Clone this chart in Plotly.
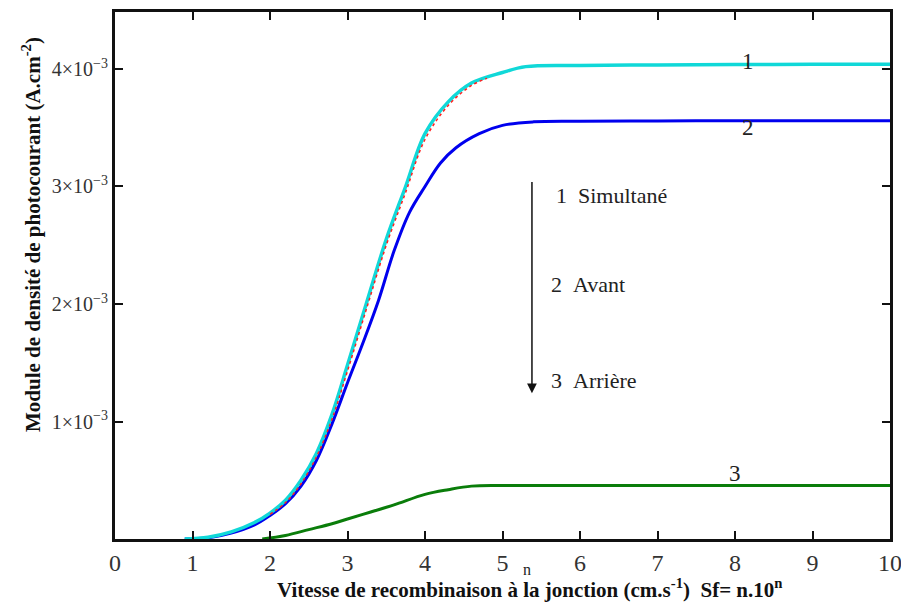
import plotly.graph_objects as go

# Photocurrent density modulus vs junction recombination velocity exponent n (Sf = n.10^n)
x_simul = [0.9, 1.2, 1.5, 1.8, 2.0, 2.2, 2.4, 2.6, 2.8, 3.0, 3.25, 3.5, 3.75, 4.0, 4.3, 4.6, 5.0, 5.3, 6.0, 7.0, 8.0, 9.0, 10.0]
y_simul = [0.0, 0.015, 0.06, 0.14, 0.22, 0.33, 0.50, 0.73, 1.06, 1.48, 2.02, 2.55, 3.00, 3.45, 3.72, 3.88, 3.97, 4.02, 4.03, 4.035, 4.038, 4.04, 4.04]

x_ref = [2.0, 2.2, 2.4, 2.6, 2.8, 3.0, 3.25, 3.5, 3.75, 4.0, 4.3, 4.6, 4.8]
y_ref = [0.21, 0.31, 0.47, 0.70, 1.02, 1.43, 1.97, 2.50, 2.95, 3.40, 3.69, 3.86, 3.92]

x_avant = [0.9, 1.2, 1.5, 1.8, 2.0, 2.2, 2.4, 2.6, 2.8, 3.0, 3.2, 3.4, 3.6, 3.8, 4.0, 4.2, 4.4, 4.7, 5.0, 5.4, 6.0, 7.0, 8.0, 9.0, 10.0]
y_avant = [0.0, 0.01, 0.05, 0.12, 0.20, 0.30, 0.45, 0.67, 0.98, 1.33, 1.67, 2.03, 2.45, 2.78, 3.00, 3.20, 3.33, 3.45, 3.52, 3.55, 3.555, 3.558, 3.56, 3.56, 3.56]

x_arriere = [1.9, 2.2, 2.5, 2.8, 3.0, 3.3, 3.6, 4.0, 4.3, 4.6, 5.0, 6.0, 7.0, 8.0, 9.0, 10.0]
y_arriere = [0.0, 0.03, 0.08, 0.13, 0.17, 0.23, 0.29, 0.38, 0.42, 0.45, 0.455, 0.455, 0.455, 0.455, 0.455, 0.455]

scale = 1e-3
x_ticks = list(range(0, 11))
y_tickvals = [1, 2, 3, 4]
y_ticktext = [f"{v}×10<sup>−3</sup>" for v in y_tickvals]

serif = "Times New Roman, Liberation Serif, DejaVu Serif, serif"

fig = go.Figure()
fig.add_trace(go.Scatter(x=x_arriere, y=[v * scale for v in y_arriere], mode="lines",
                         line=dict(color="#0a7d0a", width=3, shape="spline")))
fig.add_trace(go.Scatter(x=x_avant, y=[v * scale for v in y_avant], mode="lines",
                         line=dict(color="#0000ee", width=3, shape="spline")))
fig.add_trace(go.Scatter(x=x_simul, y=[v * scale for v in y_simul], mode="lines",
                         line=dict(color="#10d8d8", width=3.5, shape="spline")))
fig.add_trace(go.Scatter(x=x_ref, y=[v * scale for v in y_ref], mode="lines",
                         line=dict(color="#ff2020", width=1.5, dash="dot", shape="spline")))

# curve numbers
annotations = [
    dict(x=8.17, y=4.06e-3, text="1"),
    dict(x=8.17, y=3.50e-3, text="2"),
    dict(x=8.0, y=0.56e-3, text="3"),
]
for a in annotations:
    a.update(xref="x", yref="y", showarrow=False, font=dict(family=serif, size=23, color="#222"))

# legend text beside the arrow
legend_items = [("1&nbsp;&nbsp;Simultané", 2.92e-3, 5.66), ("2&nbsp;&nbsp;Avant", 2.17e-3, 5.6), ("3&nbsp;&nbsp;Arrière", 1.345e-3, 5.6)]
for txt, yv, xv in legend_items:
    annotations.append(dict(x=xv, y=yv, xref="x", yref="y", text=txt, showarrow=False, xanchor="left",
                            font=dict(family=serif, size=22, color="#222")))

# downward arrow
annotations.append(dict(x=5.38, y=1.24e-3, ax=5.38, ay=3.05e-3, xref="x", yref="y", axref="x", ayref="y",
                        text="", showarrow=True, arrowhead=2, arrowsize=1.3, arrowwidth=1.5, arrowcolor="#111"))

# axis titles
annotations += [
    dict(xref="paper", yref="paper", x=-0.127, y=0.577, textangle=-90, showarrow=False,
         text="<b>Module de densité de photocourant (A.cm<sup>-2</sup>)</b>",
         font=dict(family=serif, size=21, color="#111")),
    dict(xref="paper", yref="paper", x=0.535, y=-0.124, yanchor="bottom", showarrow=False,
         text="<b>Vitesse de recombinaison à la jonction (cm.s<sup>-1</sup>)  Sf= n.10<sup>n</sup></b>",
         font=dict(family=serif, size=21, color="#111")),
    dict(xref="paper", yref="paper", x=0.532, y=-0.038, yanchor="top", showarrow=False,
         text="n", font=dict(family=serif, size=16, color="#222")),
]

fig.update_layout(
    width=901, height=606,
    margin=dict(l=115, r=11, t=12, b=67),
    plot_bgcolor="white", paper_bgcolor="white",
    showlegend=False,
    xaxis=dict(range=[0, 10], tickvals=x_ticks, ticks="inside", ticklen=8, tickwidth=1.5, tickcolor="#111",
               showline=True, linewidth=3, linecolor="#111", mirror="ticks", showgrid=False, zeroline=False,
               automargin=False, ticklabeloverflow="allow",
               tickfont=dict(family=serif, size=24, color="#333")),
    yaxis=dict(range=[0, 4.485e-3], tickvals=[v * scale for v in y_tickvals], ticktext=y_ticktext,
               ticks="inside", ticklen=8, tickwidth=1.5, tickcolor="#111",
               showline=True, linewidth=3, linecolor="#111", mirror="ticks", showgrid=False, zeroline=False,
               automargin=False, ticklabeloverflow="allow",
               tickfont=dict(family=serif, size=20, color="#333")),
    annotations=annotations,
)

fig.write_html("out.html")
